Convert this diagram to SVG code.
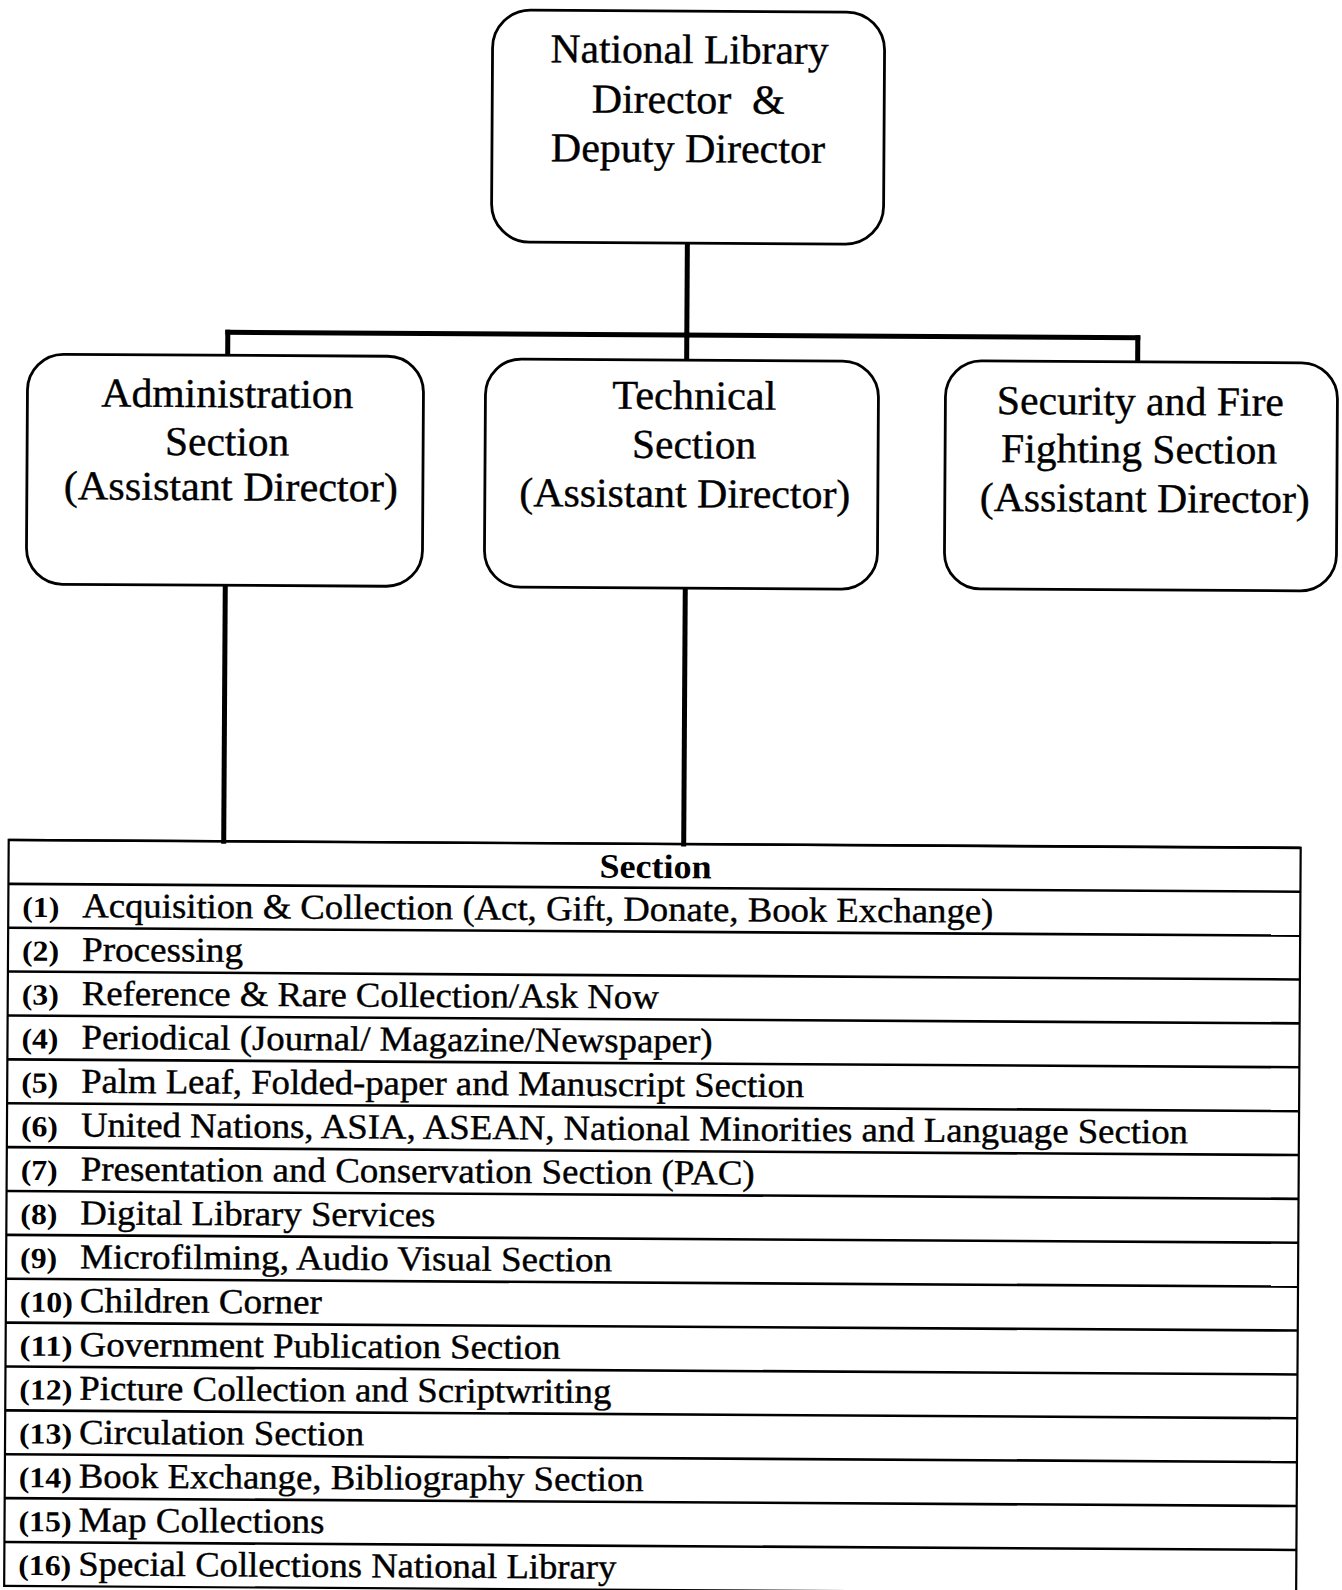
<svg xmlns="http://www.w3.org/2000/svg" width="1342" height="1590" viewBox="0 0 1342 1590">
<style>
.box{fill:#fff;stroke:#000;stroke-width:2.8}
.conn{stroke:#000;stroke-width:5;fill:none;stroke-linecap:square}
.t{font-family:"Liberation Serif","Times New Roman",serif;font-size:41px;fill:#000;stroke:#000;stroke-width:0.4;text-anchor:middle;white-space:pre}
.row{font-family:"Liberation Serif","Times New Roman",serif;font-size:35px;fill:#000;stroke:#000;stroke-width:0.4}
.num{font-family:"Liberation Serif","Times New Roman",serif;font-size:29px;font-weight:bold;fill:#000}
.hdr{font-family:"Liberation Serif","Times New Roman",serif;font-size:34px;font-weight:bold;fill:#000;text-anchor:middle}
.hl{stroke:#000;stroke-width:2.6}
.tb{fill:none;stroke:#000;stroke-width:2.2}
</style>
<rect x="0" y="0" width="1342" height="1590" fill="#fff"/>
<g transform="rotate(0.35 671 795)">
<g id="connectors">
<line class="conn" x1="684" y1="243" x2="684" y2="335"/>
<line class="conn" x1="225" y1="335" x2="1135" y2="335"/>
<line class="conn" x1="225" y1="335" x2="225" y2="358"/>
<line class="conn" x1="684" y1="335" x2="684" y2="360"/>
<line class="conn" x1="1135" y1="335" x2="1135" y2="359"/>
<line class="conn" x1="224" y1="588" x2="224" y2="844"/>
<line class="conn" x1="684" y1="588" x2="684" y2="844"/>
</g>
<g id="director">
<rect class="box" x="488" y="11" width="392" height="232" rx="38" ry="38"/>
<text class="t" x="685" y="63" textLength="278" lengthAdjust="spacingAndGlyphs">National Library</text>
<text class="t" x="684" y="113" textLength="193" lengthAdjust="spacingAndGlyphs" xml:space="preserve">Director  &amp;</text>
<text class="t" x="684" y="162" textLength="274" lengthAdjust="spacingAndGlyphs">Deputy Director</text>
</g>
<g id="administration">
<rect class="box" x="25" y="358" width="396" height="230" rx="36" ry="36"/>
<text class="t" x="225" y="410" textLength="252" lengthAdjust="spacingAndGlyphs">Administration</text>
<text class="t" x="225" y="458" textLength="124" lengthAdjust="spacingAndGlyphs">Section</text>
<text class="t" x="229" y="503" textLength="334" lengthAdjust="spacingAndGlyphs">(Assistant Director)</text>
</g>
<g id="technical">
<rect class="box" x="483" y="360" width="393" height="228" rx="36" ry="36"/>
<text class="t" x="692" y="409" textLength="164" lengthAdjust="spacingAndGlyphs">Technical</text>
<text class="t" x="692" y="458" textLength="124" lengthAdjust="spacingAndGlyphs">Section</text>
<text class="t" x="683" y="507" textLength="331" lengthAdjust="spacingAndGlyphs">(Assistant Director)</text>
</g>
<g id="security">
<rect class="box" x="943" y="359" width="392" height="228" rx="36" ry="36"/>
<text class="t" x="1138" y="412" textLength="287" lengthAdjust="spacingAndGlyphs">Security and Fire</text>
<text class="t" x="1137" y="460" textLength="276" lengthAdjust="spacingAndGlyphs">Fighting Section</text>
<text class="t" x="1143" y="509" textLength="330" lengthAdjust="spacingAndGlyphs">(Assistant Director)</text>
</g>
<g id="section-table">
<rect class="tb" x="9" y="844" width="1292" height="746"/>
<line class="hl" x1="9" y1="844" x2="1301" y2="844"/>
<line class="hl" x1="9" y1="887.9" x2="1301" y2="887.9"/>
<line class="hl" x1="9" y1="931.8" x2="1301" y2="931.8"/>
<line class="hl" x1="9" y1="975.6" x2="1301" y2="975.6"/>
<line class="hl" x1="9" y1="1019.5" x2="1301" y2="1019.5"/>
<line class="hl" x1="9" y1="1063.4" x2="1301" y2="1063.4"/>
<line class="hl" x1="9" y1="1107.3" x2="1301" y2="1107.3"/>
<line class="hl" x1="9" y1="1151.2" x2="1301" y2="1151.2"/>
<line class="hl" x1="9" y1="1195" x2="1301" y2="1195"/>
<line class="hl" x1="9" y1="1238.9" x2="1301" y2="1238.9"/>
<line class="hl" x1="9" y1="1282.8" x2="1301" y2="1282.8"/>
<line class="hl" x1="9" y1="1326.7" x2="1301" y2="1326.7"/>
<line class="hl" x1="9" y1="1370.6" x2="1301" y2="1370.6"/>
<line class="hl" x1="9" y1="1414.4" x2="1301" y2="1414.4"/>
<line class="hl" x1="9" y1="1458.3" x2="1301" y2="1458.3"/>
<line class="hl" x1="9" y1="1502.2" x2="1301" y2="1502.2"/>
<line class="hl" x1="9" y1="1546.1" x2="1301" y2="1546.1"/>
<text class="hdr" x="656" y="878" textLength="112" lengthAdjust="spacingAndGlyphs">Section</text>
<text class="num" x="23" y="920.8" textLength="37" lengthAdjust="spacingAndGlyphs">(1)</text>
<text class="row" x="83" y="920.8" textLength="911" lengthAdjust="spacingAndGlyphs">Acquisition &amp; Collection (Act, Gift, Donate, Book Exchange)</text>
<text class="num" x="23" y="964.6" textLength="37" lengthAdjust="spacingAndGlyphs">(2)</text>
<text class="row" x="83" y="964.6" textLength="161" lengthAdjust="spacingAndGlyphs">Processing</text>
<text class="num" x="23" y="1008.5" textLength="37" lengthAdjust="spacingAndGlyphs">(3)</text>
<text class="row" x="83" y="1008.5" textLength="577" lengthAdjust="spacingAndGlyphs">Reference &amp; Rare Collection/Ask Now</text>
<text class="num" x="23" y="1052.4" textLength="37" lengthAdjust="spacingAndGlyphs">(4)</text>
<text class="row" x="83" y="1052.4" textLength="631" lengthAdjust="spacingAndGlyphs">Periodical (Journal/ Magazine/Newspaper)</text>
<text class="num" x="23" y="1096.3" textLength="37" lengthAdjust="spacingAndGlyphs">(5)</text>
<text class="row" x="83" y="1096.3" textLength="723" lengthAdjust="spacingAndGlyphs">Palm Leaf, Folded-paper and Manuscript Section</text>
<text class="num" x="23" y="1140.2" textLength="37" lengthAdjust="spacingAndGlyphs">(6)</text>
<text class="row" x="83" y="1140.2" textLength="1107" lengthAdjust="spacingAndGlyphs">United Nations, ASIA, ASEAN, National Minorities and Language Section</text>
<text class="num" x="23" y="1184" textLength="37" lengthAdjust="spacingAndGlyphs">(7)</text>
<text class="row" x="83" y="1184" textLength="674" lengthAdjust="spacingAndGlyphs">Presentation and Conservation Section (PAC)</text>
<text class="num" x="23" y="1227.9" textLength="37" lengthAdjust="spacingAndGlyphs">(8)</text>
<text class="row" x="83" y="1227.9" textLength="355" lengthAdjust="spacingAndGlyphs">Digital Library Services</text>
<text class="num" x="23" y="1271.8" textLength="37" lengthAdjust="spacingAndGlyphs">(9)</text>
<text class="row" x="83" y="1271.8" textLength="532" lengthAdjust="spacingAndGlyphs">Microfilming, Audio Visual Section</text>
<text class="num" x="23" y="1315.7" textLength="53" lengthAdjust="spacingAndGlyphs">(10)</text>
<text class="row" x="83" y="1315.7" textLength="242" lengthAdjust="spacingAndGlyphs">Children Corner</text>
<text class="num" x="23" y="1359.6" textLength="53" lengthAdjust="spacingAndGlyphs">(11)</text>
<text class="row" x="83" y="1359.6" textLength="481" lengthAdjust="spacingAndGlyphs">Government Publication Section</text>
<text class="num" x="23" y="1403.4" textLength="53" lengthAdjust="spacingAndGlyphs">(12)</text>
<text class="row" x="83" y="1403.4" textLength="532" lengthAdjust="spacingAndGlyphs">Picture Collection and Scriptwriting</text>
<text class="num" x="23" y="1447.3" textLength="53" lengthAdjust="spacingAndGlyphs">(13)</text>
<text class="row" x="83" y="1447.3" textLength="285" lengthAdjust="spacingAndGlyphs">Circulation Section</text>
<text class="num" x="23" y="1491.2" textLength="53" lengthAdjust="spacingAndGlyphs">(14)</text>
<text class="row" x="83" y="1491.2" textLength="565" lengthAdjust="spacingAndGlyphs">Book Exchange, Bibliography Section</text>
<text class="num" x="23" y="1535.1" textLength="53" lengthAdjust="spacingAndGlyphs">(15)</text>
<text class="row" x="83" y="1535.1" textLength="246" lengthAdjust="spacingAndGlyphs">Map Collections</text>
<text class="num" x="23" y="1579" textLength="53" lengthAdjust="spacingAndGlyphs">(16)</text>
<text class="row" x="83" y="1579" textLength="538" lengthAdjust="spacingAndGlyphs">Special Collections National Library</text>
</g>
</g>
</svg>
